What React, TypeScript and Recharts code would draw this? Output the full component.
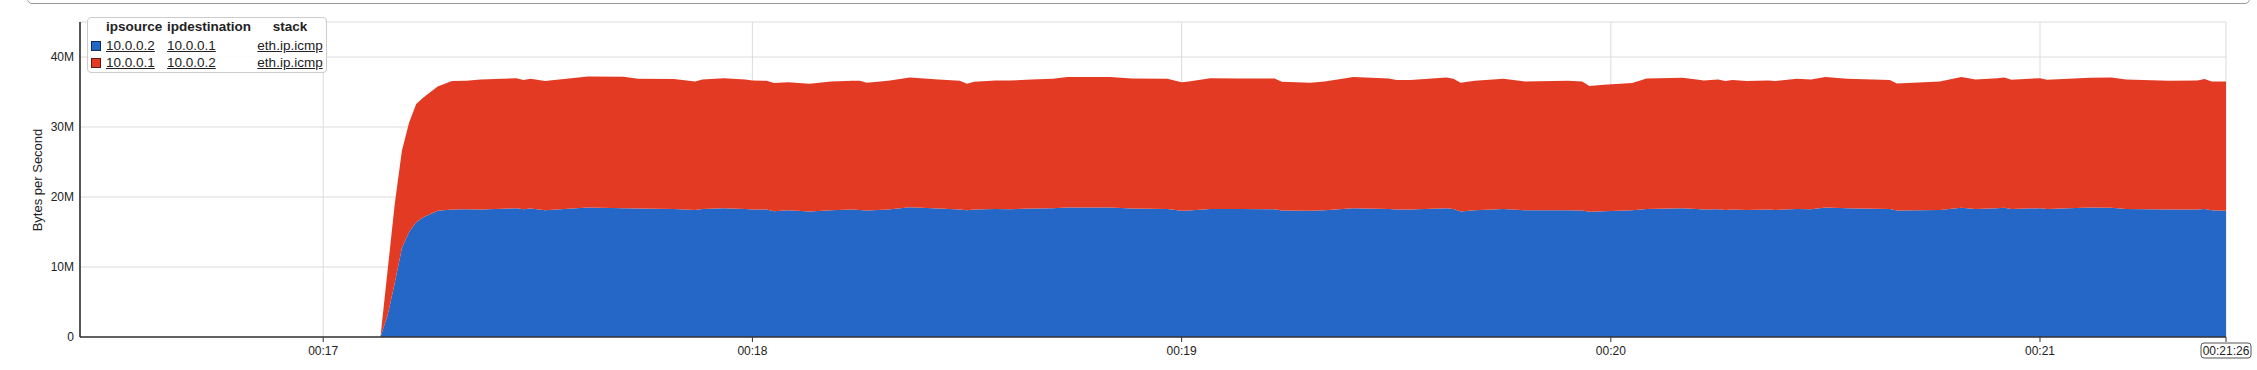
import React from "react";
import { AreaChart, Area, XAxis, YAxis, CartesianGrid } from "recharts";

// seconds after 00:16:26
const seconds = [
  0, 42, 43, 44, 45, 46, 47, 48, 50, 52, 54, 56, 61, 62, 63, 65, 71, 76, 78, 83,
  86, 87, 90, 93, 94, 96, 97, 99, 102, 105, 108, 109, 110, 113, 116, 120, 123,
  124, 125, 128, 130, 133, 136, 138, 144, 147, 152, 154, 155, 158, 162, 167,
  168, 172, 174, 178, 183, 184, 186, 191, 192, 193, 195, 199, 202, 208, 210,
  211, 213, 217, 219, 224, 226, 227, 229, 230, 231, 233, 236, 237, 240, 242,
  244, 247, 253, 254, 260, 263, 265, 268, 269, 270, 274, 275, 278, 281, 284,
  286, 292, 296, 297, 298, 300,
];

// 10.0.0.2 -> 10.0.0.1, MB/s
const fromDotTwo = [
  0, 0, 3.1, 7.7, 12.7, 15.0, 16.4, 17.1, 18.05, 18.21, 18.25, 18.21, 18.4,
  18.25, 18.35, 18.11, 18.49, 18.4, 18.35, 18.3, 18.16, 18.3, 18.4, 18.3, 18.21,
  18.21, 17.97, 18.11, 17.92, 18.11, 18.21, 18.16, 18.07, 18.21, 18.54, 18.35,
  18.21, 18.11, 18.21, 18.3, 18.25, 18.35, 18.4, 18.49, 18.49, 18.35, 18.3,
  18.02, 18.07, 18.3, 18.3, 18.25, 18.07, 18.02, 18.11, 18.4, 18.3, 18.21,
  18.21, 18.4, 18.3, 17.92, 18.11, 18.3, 18.11, 18.11, 18.07, 17.88, 17.97,
  18.1, 18.3, 18.4, 18.3, 18.21, 18.25, 18.16, 18.21, 18.16, 18.21, 18.16,
  18.3, 18.25, 18.49, 18.4, 18.3, 18.07, 18.16, 18.45, 18.3, 18.4, 18.45, 18.3,
  18.4, 18.3, 18.4, 18.49, 18.45, 18.3, 18.21, 18.21, 18.3, 18.11, 18.02,
];

// 10.0.0.1 -> 10.0.0.2, MB/s
const fromDotOne = [
  0, 0, 6.4, 11.3, 13.9, 15.6, 16.9, 17.1, 17.75, 18.35, 18.35, 18.58, 18.58,
  18.45, 18.54, 18.45, 18.73, 18.77, 18.54, 18.54, 18.35, 18.49, 18.58, 18.49,
  18.44, 18.39, 18.3, 18.3, 18.26, 18.4, 18.39, 18.44, 18.25, 18.39, 18.54,
  18.44, 18.39, 18.07, 18.25, 18.35, 18.4, 18.42, 18.49, 18.64, 18.64, 18.59,
  18.59, 18.39, 18.44, 18.68, 18.64, 18.69, 18.39, 18.3, 18.4, 18.73, 18.64,
  18.49, 18.49, 18.68, 18.59, 18.4, 18.49, 18.59, 18.4, 18.49, 18.44, 17.97,
  18.07, 18.2, 18.64, 18.63, 18.49, 18.44, 18.54, 18.4, 18.49, 18.4, 18.44,
  18.4, 18.59, 18.54, 18.64, 18.49, 18.4, 18.16, 18.35, 18.68, 18.49, 18.58,
  18.63, 18.45, 18.58, 18.45, 18.49, 18.54, 18.63, 18.49, 18.39, 18.44, 18.54,
  18.4, 18.49,
];

const yTicks = [0, 10, 20, 30, 40];
const xTickValues = [34, 94, 154, 214, 274, 300];
const xTickLabels = ["00:17", "00:18", "00:19", "00:20", "00:21", "00:21:26"];

const BLUE = "#2567c6";
const RED = "#e33a23";
const FONT = "'Liberation Sans', Arial, sans-serif";

const legendRows = [
  { source: "10.0.0.2", destination: "10.0.0.1", stack: "eth.ip.icmp", color: BLUE },
  { source: "10.0.0.1", destination: "10.0.0.2", stack: "eth.ip.icmp", color: RED },
];

const data = seconds.map((t, i) => ({
  t,
  a: fromDotTwo[i],
  b: fromDotOne[i],
}));

const XTick = (props: any) => {
  const { x, y, payload } = props;
  const idx = xTickValues.indexOf(payload.value);
  const label = xTickLabels[idx] ?? "";
  const last = idx === xTickValues.length - 1;
  return (
    <g>
      {last && (
        <rect x={x - 25} y={y} width={50} height={15} rx={3} fill="#fff" stroke="#555" />
      )}
      <text x={x} y={y + 12} textAnchor="middle" fontSize={12} fill="#222" fontFamily={FONT}>
        {label}
      </text>
    </g>
  );
};

const abs = (left: number, top: number, extra: React.CSSProperties = {}): React.CSSProperties => ({
  position: "absolute",
  left,
  top,
  ...extra,
});

export default function App() {
  return (
    <div style={{ position: "absolute", left: 0, top: 0, width: 2257, height: 370, background: "#fff", fontFamily: FONT }}>
      <div
        style={abs(27, -10, {
          width: 2221,
          height: 12,
          border: "1px solid #9a9a9a",
          borderRadius: 5,
        })}
      />
      <AreaChart
        width={2257}
        height={370}
        data={data}
        margin={{ top: 22, right: 31, bottom: 0, left: 0 }}
      >
        <CartesianGrid stroke="#dcdcdc" strokeWidth={1} />
        <XAxis
          dataKey="t"
          type="number"
          domain={[0, 300]}
          ticks={xTickValues}
          tick={<XTick />}
          tickSize={5}
          tickMargin={1}
          height={33}
          stroke="#333"
          tickLine={{ stroke: "#333" }}
          axisLine={{ stroke: "#333", strokeWidth: 1.5 }}
          interval={0}
        />
        <YAxis
          type="number"
          domain={[0, 45]}
          ticks={yTicks}
          width={80}
          tickLine={false}
          tickSize={0}
          tickMargin={6}
          axisLine={{ stroke: "#222", strokeWidth: 1.5 }}
          tick={{ fontSize: 12, fill: "#222", fontFamily: FONT }}
          tickFormatter={(v: number) => (v === 0 ? "0" : `${v}M`)}
          interval={0}
        />
        <Area
          type="linear"
          dataKey="a"
          stackId="s"
          stroke="none"
          fill={BLUE}
          fillOpacity={1}
          isAnimationActive={false}
        />
        <Area
          type="linear"
          dataKey="b"
          stackId="s"
          stroke="none"
          fill={RED}
          fillOpacity={1}
          isAnimationActive={false}
        />
      </AreaChart>

      <div
        style={abs(38 - 60, 180 - 9, {
          width: 120,
          height: 18,
          lineHeight: "18px",
          textAlign: "center",
          fontSize: 13,
          color: "#222",
          transform: "rotate(-90deg)",
        })}
      >
        Bytes per Second
      </div>

      <div
        style={abs(87, 17, {
          width: 240,
          height: 56,
          border: "1px solid #ccc",
          borderRadius: 4,
          background: "rgba(255,255,255,0.85)",
          boxSizing: "border-box",
        })}
      />
      {[
        { text: "ipsource", left: 106, width: 60, align: "left" as const },
        { text: "ipdestination", left: 167, width: 90, align: "left" as const },
        { text: "stack", left: 257, width: 66, align: "center" as const },
      ].map((h) => (
        <div
          key={h.text}
          style={abs(h.left, 19, {
            width: h.width,
            height: 16,
            lineHeight: "16px",
            fontSize: 13.5,
            fontWeight: "bold",
            color: "#222",
            textAlign: h.align,
            whiteSpace: "nowrap",
          })}
        >
          {h.text}
        </div>
      ))}
      {legendRows.map((r, i) => {
        const cy = 46 + i * 17;
        const cell = (left: number, width: number, align: "left" | "center"): React.CSSProperties =>
          abs(left, cy - 8, {
            width,
            height: 16,
            lineHeight: "16px",
            fontSize: 13.5,
            color: "#222",
            textDecoration: "underline",
            textAlign: align,
            whiteSpace: "nowrap",
          });
        return (
          <React.Fragment key={i}>
            <div
              style={abs(91, cy - 5, {
                width: 10,
                height: 10,
                background: r.color,
                border: "1px solid rgba(0,0,0,0.55)",
                boxSizing: "border-box",
              })}
            />
            <div style={cell(106, 60, "left")}>{r.source}</div>
            <div style={cell(167, 80, "left")}>{r.destination}</div>
            <div style={cell(257, 66, "center")}>{r.stack}</div>
          </React.Fragment>
        );
      })}
    </div>
  );
}
